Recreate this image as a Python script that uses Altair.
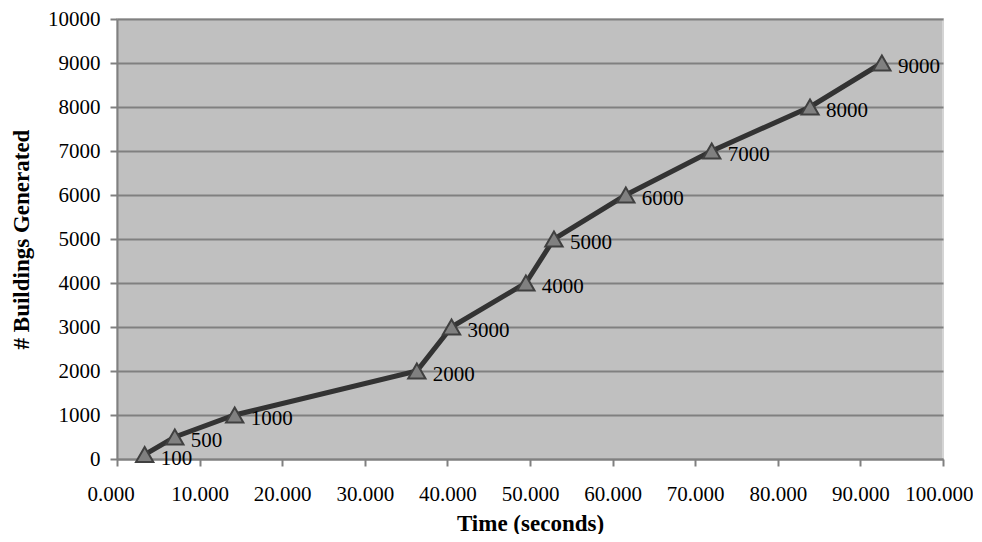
import altair as alt
import pandas as pd

time_s = [3.35, 7.0, 14.25, 36.3, 40.5, 49.5, 52.9, 61.6, 72.0, 83.9, 92.6]
buildings = [100, 500, 1000, 2000, 3000, 4000, 5000, 6000, 7000, 8000, 9000]
labels = [str(b) for b in buildings]

df = pd.DataFrame({"time": time_s, "buildings": buildings, "label": labels})

FONT = "Liberation Serif"

x = alt.X("time:Q", title="Time (seconds)",
          scale=alt.Scale(domain=[0, 100], nice=False),
          axis=alt.Axis(values=list(range(0, 101, 10)), format=".3f", grid=False,
                        labelOverlap=False, labelFlush=True, labelFlushOffset=30))
y = alt.Y("buildings:Q", title="# Buildings Generated",
          scale=alt.Scale(domain=[0, 10000], nice=False),
          axis=alt.Axis(values=list(range(0, 10001, 1000)), format="d", grid=True,
                        labelOverlap=False, labelFlush=False))

base = alt.Chart(df)
line = base.mark_line(color="#333333", strokeWidth=5).encode(x=x, y=y)
pts = base.mark_point(shape="triangle-up", filled=True, size=300, fill="#808080",
                      stroke="#404040", strokeWidth=2, opacity=1).encode(x=x, y=y)
txt = base.mark_text(align="left", baseline="middle", dx=16, dy=4, font=FONT,
                     fontSize=21, color="#000000").encode(x=x, y=y, text="label:N")

chart = alt.layer(line, pts, txt).properties(
    width=826, height=440,
    autosize=alt.AutoSizeParams(type="none"),
    padding={"left": 109, "top": 11, "right": 30, "bottom": 75},
).configure_view(
    fill="#c0c0c0", stroke="#d4d4d4", strokeWidth=2
).configure_axis(
    labelFont=FONT, titleFont=FONT, labelFontSize=21, titleFontSize=23,
    labelColor="#000000", titleColor="#000000", titleFontWeight="bold",
    domainColor="#808080", domainWidth=2, tickColor="#808080", tickWidth=2,
    tickSize=7, gridColor="#808080", gridWidth=2, gridOpacity=1,
).configure_axisX(
    labelPadding=17, titlePadding=8
).configure_axisY(
    labelPadding=10, titlePadding=14
)

chart.save("out.html", embed_options={"renderer": "svg", "actions": False})
